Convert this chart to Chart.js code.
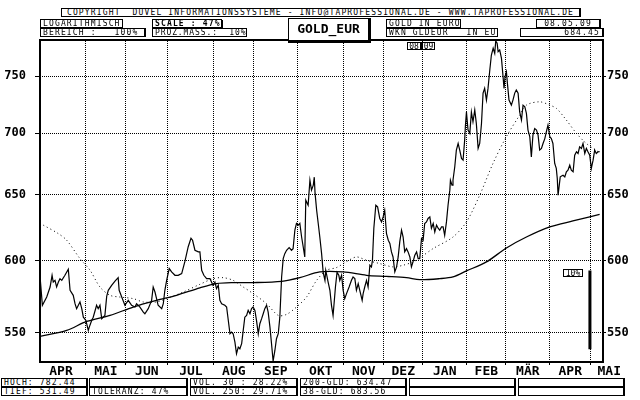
<!DOCTYPE html>
<html>
<head>
<meta charset="utf-8">
<script src="https://cdn.jsdelivr.net/npm/chart.js@4.4.0/dist/chart.umd.min.js"></script>
<style>
body { margin: 0; background: #fff; }
#wrap { position: relative; width: 640px; height: 400px; overflow: hidden; }
canvas { position: absolute; left: 0; top: 0; }
.box { position: absolute; box-sizing: border-box; border: 1px solid #000; background: #fff; color: #000;
       font: 8px "DejaVu Sans Mono", monospace; letter-spacing: 1.15px; line-height: 7px;
       padding: 0 2px; white-space: pre; overflow: hidden; }
.c { text-align: center; }
.r { text-align: right; }
.b { font-weight: bold; box-shadow: 1px 1px 0 #000; }
.t { letter-spacing: 0.9px; }
.sh { border-right-width: 2px; }
.big { font: bold 13px "DejaVu Sans Mono", monospace; letter-spacing: 0; line-height: 19px;
       border-width: 1px 3px 3px 1px; text-align: center; }
</style>
</head>
<body>
<div id="wrap"><canvas id="chart" width="640" height="400"></canvas></div>
<script>
// trading day index (0 = first day on the chart) and closing price in EUR
const goldClose = [
  [0, 589], [1.2, 568.5], [3.4, 574.2], [5.1, 581.2], [6.1, 589.5], [6.7, 584.7], [7.6, 585.9], [8.4, 581.2],
  [9.3, 584.7], [10.1, 587.1], [11, 585.9], [12.6, 589.5], [14.3, 593.8], [15.2, 578.9], [16.8, 575.4],
  [17.7, 569.6], [18.5, 566.2], [20.2, 570.8], [21.1, 566.2], [21.9, 560.4], [23.2, 558.2], [24.4, 551.5],
  [24.9, 553.7], [26.1, 558.2], [26.9, 560.4], [28.6, 568.5], [29.4, 566.2], [30.3, 568.5], [31.2, 559.4],
  [32, 560.4], [32.8, 561.6], [33.7, 574.7], [34.5, 578.9], [36.2, 582.4], [37.9, 585.4], [39.5, 587.8],
  [40, 578.9], [41.3, 574.2], [42.9, 568.5], [44.6, 571.9], [46.3, 568.5], [48, 567.3], [48.8, 569.6],
  [50.5, 567.3], [52.2, 563.8], [53, 562.7], [54.7, 566.2], [56.4, 571.9], [57.2, 581.2], [58.1, 577.7],
  [59.7, 568.5], [61.5, 566.2], [62.3, 569.6], [63.1, 578.9], [64, 585.9], [65.3, 594.3], [66.5, 591.9],
  [68.2, 589.5], [69.8, 589.5], [71.6, 590.7], [73.2, 599.3], [74.9, 610.2], [76.3, 616.5], [77.1, 615],
  [78.3, 607.6], [80, 606.4], [80.8, 606.4], [81.7, 593.1], [82.8, 589.5], [84.2, 587.1], [85.9, 587.1],
  [87.4, 582.4], [88.4, 584.7], [89.2, 580.1], [90.1, 582.4], [90.9, 571.9], [91.8, 569.6], [93.4, 568.5],
  [94.3, 567.3], [96, 549.3], [96.8, 550.4], [97.6, 549.3], [98.5, 543.8], [99.3, 536.2], [100.2, 540.5],
  [101, 539.4], [101.9, 542.7], [102.7, 551.5], [103.5, 560.4], [104.4, 561.6], [105.2, 565], [106.1, 562.7],
  [106.9, 566.2], [107.7, 567.3], [108.6, 565], [109.4, 558.2], [110.3, 549.3], [111.1, 556], [112, 559.4],
  [112.8, 562.7], [113.6, 566.2], [114.5, 568.5], [115.3, 563.8], [116.2, 553.7], [117, 542.7], [117.8, 531.49],
  [118.7, 538.3], [119.5, 546], [120.4, 549.3], [121.2, 560.4], [122.1, 588.3], [122.9, 601.5], [123.7, 605.1],
  [124.6, 607.6], [125.9, 609.6], [127.1, 607.6], [127.9, 608.8], [128.8, 622.5], [129.6, 627.6], [130.5, 626.3],
  [131.3, 627.6], [132.2, 617.4], [133, 610.2], [133.8, 602.7], [134.3, 645.5], [135.5, 641.6], [136.4, 661.3],
  [137.2, 653.4], [138.1, 657.3], [138.6, 663.7], [139, 651], [139.8, 637.7], [140.6, 627.6], [141.4, 617.4],
  [142.3, 605.1], [143.1, 591.6], [144, 585.9], [144.4, 593.1], [145.6, 584.7], [146.5, 578.9], [147.3, 568.5],
  [148.1, 561.6], [148.6, 569.6], [149.3, 581.2], [150.1, 591.6], [151, 589.5], [151.5, 585.9], [152.4, 589.5],
  [153.2, 578.9], [154, 573.1], [154.9, 576.6], [156.2, 581.2], [157.4, 585.9], [158.2, 588.3], [159.1, 587.1],
  [159.9, 578.9], [160.8, 583.6], [161.6, 578.9], [162.8, 571.9], [163.3, 576.6], [164.1, 581.2], [165, 585.9],
  [165.8, 581.2], [166.7, 596.7], [167.5, 595.5], [168, 600.3], [168.7, 624], [169.7, 641.6], [170.6, 640.3],
  [171.7, 631.4], [172.6, 628.8], [173.4, 632.6], [174.2, 637.7], [175.1, 619.9], [176, 615], [176.8, 612.6],
  [177.6, 606.4], [178.4, 602.7], [179.3, 591.9], [180.2, 595.5], [181, 602.7], [181.8, 613.8], [182.7, 622.5],
  [183.5, 617.4], [184.3, 606.4], [185.2, 608.8], [186, 606.4], [186.9, 602.7], [187.7, 595.5], [188.5, 599.1],
  [189.4, 603.9], [190.3, 606.4], [191.1, 601.5], [191.9, 601.5], [192.8, 616.3], [193.6, 615], [194.4, 627.6],
  [195.3, 628.8], [196.1, 631.4], [197, 632.6], [197.8, 624], [198.7, 627.6], [199.5, 621.2], [200.4, 626.3],
  [201.2, 624], [202, 622.5], [202.9, 625], [203.7, 625], [204.5, 618.7], [205.4, 628.8], [206.2, 641.6],
  [207.1, 653.4], [207.4, 661.3], [208.2, 657.3], [208.7, 661.3], [209.6, 672.1], [210.4, 685.8], [211.3, 691.3],
  [212.1, 685.8], [213, 678.9], [213.8, 677.5], [214.6, 694.1], [215, 706.8], [215.5, 718.1], [216.3, 702.6],
  [217.2, 699.8], [218, 718.1], [218.8, 709.7], [219.7, 719.8], [220.5, 708.2], [221.4, 687.2], [222.2, 691.3],
  [223.1, 708.2], [223.9, 734.7], [224.7, 738.9], [225.6, 728.5], [226.4, 738.9], [227.3, 755.5], [228.1, 769.3],
  [229, 775.6], [229.8, 770.9], [230.3, 782.44], [231, 780.3], [231.5, 772.4], [232.3, 774], [233.2, 766.2],
  [234, 749.4], [234.5, 738.9], [235, 749.4], [235.7, 753.9], [236.2, 743.4], [237, 728.5], [238.2, 724.1],
  [239, 728.5], [239.9, 734.7], [240.7, 737.4], [241.6, 734.7], [242.4, 718.1], [243.3, 711.1], [244.1, 724.1],
  [245, 722.7], [245.8, 716.9], [246.6, 702.6], [247.5, 697.1], [248.3, 680.2], [249.1, 698.3], [250, 703.8],
  [250.9, 702.6], [251.7, 698.3], [252.5, 685.8], [253.4, 687.2], [254.2, 691.3], [255.1, 695.4], [255.9, 701.2],
  [256.7, 706.8], [257.6, 697.1], [258.4, 695.4], [259.2, 691.3], [260.1, 674.8], [260.9, 670.8], [261.4, 662.7],
  [261.8, 649.4], [262.3, 656], [262.9, 664], [264.3, 665.3], [265.2, 664], [266, 668.1], [266.8, 669.4],
  [267.7, 673.4], [268.5, 669.4], [269.4, 668.1], [270.2, 681.6], [271.1, 684.4], [271.9, 683], [272.7, 688.5],
  [273.6, 687.2], [274.4, 691.3], [275.3, 683], [276.1, 687.2], [276.9, 684.4], [277.8, 681.6], [278.6, 670.8],
  [279.5, 677.5], [280.3, 685.8], [281.1, 683], [282, 684.4], [282.8, 684.45]
];

// 200 day average (solid)
const gld200 = [
  [0, 547.5], [13.5, 551.5], [23.6, 557.5], [35.4, 561.6], [47.1, 567.3], [58.9, 571.9], [69, 575.4],
  [80.8, 580.6], [89.2, 583.6], [97.5, 584.3], [107.7, 584.3], [122.1, 585.2], [131.3, 587.8], [141.4, 591.9],
  [153.2, 591.9], [165, 589.5], [175.1, 588.7], [185.2, 587.8], [191.9, 586.4], [202, 587.1], [208.7, 588.3],
  [215.5, 592.6], [225.6, 599.1], [235.7, 609.3], [245.8, 617.4], [257.6, 625], [269.3, 629.5], [277.8, 632.6],
  [282.8, 634.47]
];

// 38 day average (dotted)
const gld38 = [
  [1.7, 626.3], [9.2, 620], [13.5, 615], [20.2, 601.5], [25.3, 593.1], [30.3, 581.2], [35.4, 575.4],
  [40.4, 574.2], [47.1, 573.1], [52.2, 570.8], [58.9, 570.8], [64, 573.1], [72.4, 577.7], [80.8, 583.1],
  [87.5, 587.1], [92.6, 587.8], [97.6, 585.9], [102.7, 581.2], [107.7, 576.6], [114.5, 569.6], [120.4, 561.6],
  [124.6, 562.3], [129.6, 567.3], [134.7, 574.2], [139.8, 585.9], [144.8, 593.1], [149.8, 595], [154.9, 599.3],
  [159.9, 602.7], [165, 600.3], [171.7, 597.9], [178.4, 595.5], [183.5, 596.7], [188.5, 599.1], [191.9, 602],
  [198.6, 608.8], [208.7, 617.4], [215.5, 628.8], [222.2, 649.4], [228.9, 674.8], [235.7, 697.1], [242.4, 715.4],
  [245.8, 724.1], [252.5, 727], [257.6, 724.1], [261, 721.2], [266, 711.1], [271.1, 699.8], [276.1, 691.3],
  [282.8, 683.56]
];

const monthStarts = [23.2, 43.4, 64.6, 87.9, 108, 130.3, 153.5, 173.7, 193.4, 215.7, 235.4, 257.6, 278.3];
const monthNames = ['APR', 'MAI', 'JUN', 'JUL', 'AUG', 'SEP', 'OKT', 'NOV', 'DEZ', 'JAN', 'FEB', 'MÄR', 'APR', 'MAI'];
const priceTicks = [550, 600, 650, 700, 750];
const yearStart = 193.4;
const yearLabels = ['08', '09'];
const tenPct = { day: 277.9, top: 593 };
const low = 531.49, high = 782.44, lastDay = 284;

// header + footer text boxes
const boxes = [
  [61, 8, 520, 9, 'COPYRIGHT  DUVEL INFORMATIONSSYSTEME - INFO@TAPROFESSIONAL.DE - WWW.TAPROFESSIONAL.DE', 'c sh'],
  [40, 19, 83, 9, 'LOGARITHMISCH', ''],
  [40, 28, 106, 9, 'BEREICH :   100%', 'sh'],
  [152, 19, 70, 9, 'SCALE : 47%', 'b'],
  [152, 28, 95, 9, 'PROZ.MASS.:  10%', 't'],
  [288, 18, 83, 25, 'GOLD_EUR', 'big'],
  [386, 19, 75, 9, 'GOLD IN EURO', ''],
  [386, 28, 112, 9, 'WKN GLDEUR   IN EUR', ''],
  [536, 19, 65, 9, '08.05.09', 'c sh'],
  [520, 28, 84, 9, '684.45', 'r sh'],
  [1, 378, 87, 9, 'HOCH: 782.44', 'sh'],
  [1, 387, 87, 9, 'TIEF: 531.49', 'sh'],
  [89, 378, 99, 9, '', 'sh'],
  [89, 387, 99, 9, 'TOLERANZ: 47%', 'sh'],
  [190, 378, 108, 9, 'VOL. 30 : 28.22%', 'sh'],
  [190, 387, 108, 9, 'VOL. 250: 29.71%', 'sh'],
  [300, 378, 107, 9, '200-GLD: 634.47', 'sh'],
  [300, 387, 107, 9, '38-GLD: 683.56', 'sh'],
  [409, 378, 107, 9, '', 'sh'],
  [409, 387, 107, 9, '', 'sh'],
  [518, 378, 107, 9, '', 'sh'],
  [518, 387, 107, 9, '', 'sh']
];

const wrap = document.getElementById('wrap');
boxes.forEach(([x, y, w, h, text, cls]) => {
  const d = document.createElement('div');
  d.className = 'box ' + cls;
  d.style.left = x + 'px';
  d.style.top = y + 'px';
  d.style.width = w + 'px';
  d.style.height = h + 'px';
  d.textContent = text;
  wrap.appendChild(d);
});

const toXY = arr => arr.map(([x, y]) => ({ x, y }));

const monthBounds = [-2, ...monthStarts, 297];
const xTicks = monthStarts.map(v => ({ value: v, grid: true, name: '' }));
monthNames.forEach((n, i) => xTicks.push({ value: (monthBounds[i] + monthBounds[i + 1]) / 2, grid: false, name: n }));
xTicks.sort((a, b) => a.value - b.value);

const tickFont = { family: 'DejaVu Sans Mono', size: 12, weight: 'bold' };

const extras = {
  id: 'extras',
  afterDatasetsDraw(chart) {
    const { ctx, chartArea: a, scales } = chart;
    ctx.save();
    ctx.fillStyle = '#000';
    // frame
    ctx.fillRect(a.left - 1, a.top - 2, 2, a.bottom - a.top + 4);
    ctx.fillRect(a.right, a.top - 2, 2, a.bottom - a.top + 4);
    ctx.fillRect(a.left, a.top - 2, a.right - a.left, 2);
    ctx.fillRect(a.left, a.bottom, a.right - a.left, 2);

    // year change markers
    const jx = Math.round(scales.x.getPixelForValue(yearStart)) - 2;
    const ty = a.top + 1;
    ctx.lineWidth = 1;
    ctx.strokeStyle = '#000';
    ctx.font = '8px "DejaVu Sans Mono"';
    ctx.textAlign = 'center';
    ctx.textBaseline = 'middle';
    ctx.fillStyle = '#fff';
    ctx.fillRect(jx - 14, ty, 28, 8);
    ctx.strokeRect(jx - 13.5, ty + 0.5, 13, 7);
    ctx.strokeRect(jx + 0.5, ty + 0.5, 13, 7);
    ctx.fillStyle = '#000';
    ctx.fillRect(jx, ty, 2, 8);
    ctx.fillText(yearLabels[0], jx - 7, ty + 4.5);
    ctx.fillText(yearLabels[1], jx + 7.5, ty + 4.5);

    // 10% scale label
    const bx = Math.round(scales.x.getPixelForValue(tenPct.day));
    const by = Math.round(scales.y.getPixelForValue(tenPct.top));
    ctx.fillStyle = '#fff';
    ctx.fillRect(bx - 27, by - 1, 20, 8);
    ctx.strokeRect(bx - 26.5, by - 0.5, 19, 7);
    ctx.fillStyle = '#000';
    ctx.fillText('10%', bx - 17, by + 3.5);
    ctx.restore();
  }
};

new Chart(document.getElementById('chart'), {
  type: 'line',
  data: {
    datasets: [
      { data: toXY(gld38), borderColor: '#000', borderWidth: 1, borderDash: [1, 3], pointRadius: 0, tension: 0.3 },
      { data: toXY(gld200), borderColor: '#000', borderWidth: 1.3, pointRadius: 0, tension: 0.3 },
      { data: toXY(goldClose), borderColor: '#000', borderWidth: 1.2, pointRadius: 0 },
      { data: [{ x: tenPct.day, y: tenPct.top }, { x: tenPct.day, y: tenPct.top / 1.1 }],
        borderColor: '#000', borderWidth: 3, pointRadius: 0 }
    ]
  },
  options: {
    responsive: false,
    animation: false,
    devicePixelRatio: 1,
    layout: { padding: { top: 41, bottom: 22, left: 0, right: 0 } },
    plugins: { legend: { display: false }, tooltip: { enabled: false } },
    scales: {
      x: {
        type: 'linear', min: 0, max: lastDay,
        afterBuildTicks: axis => { axis.ticks = xTicks.map(t => ({ ...t })); },
        afterFit: axis => { axis.height = 17; },
        grid: { color: c => (c.tick && c.tick.grid ? '#000' : 'rgba(0,0,0,0)'), tickLength: 4, lineWidth: 1 },
        border: { display: false, dash: [1, 1] },
        ticks: { autoSkip: false, maxRotation: 0, padding: -1, color: '#000',
                 font: { family: 'DejaVu Sans Mono', size: 13, weight: 'bold' },
                 callback: (v, i, ticks) => ticks[i].name }
      },
      y: {
        type: 'logarithmic', position: 'left', min: low, max: high,
        afterBuildTicks: axis => { axis.ticks = priceTicks.map(v => ({ value: v })); },
        afterFit: axis => { axis.width = 40; },
        grid: { color: '#000', tickLength: 5, lineWidth: 1 },
        border: { display: false, dash: [1, 1] },
        ticks: { padding: 9, color: '#000', font: tickFont, callback: v => String(v) }
      },
      y2: {
        type: 'logarithmic', position: 'right', min: low, max: high,
        afterBuildTicks: axis => { axis.ticks = priceTicks.map(v => ({ value: v })); },
        afterFit: axis => { axis.width = 38; },
        grid: { color: '#000', tickLength: 4, lineWidth: 1, drawOnChartArea: false },
        border: { display: false },
        ticks: { padding: 1, color: '#000', font: tickFont, callback: v => String(v) }
      }
    }
  },
  plugins: [extras]
});
</script>
</body>
</html>
